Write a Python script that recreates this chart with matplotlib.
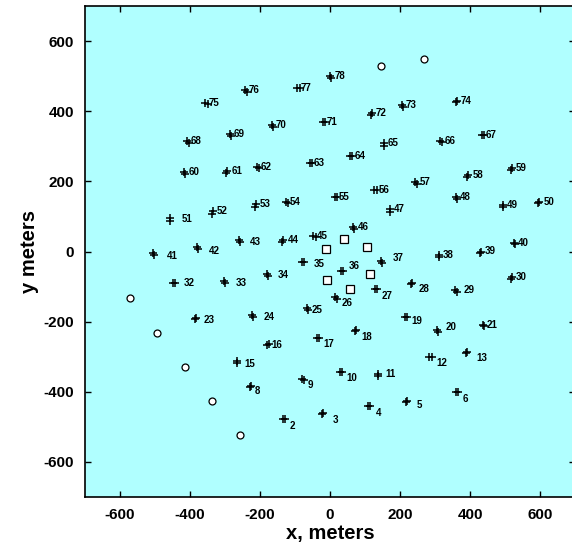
import matplotlib.pyplot as plt
import numpy as np

# station numbers and positions (meters)
station = [2, 3, 4, 5, 6, 8, 9, 10, 11, 12, 13, 15, 16, 17, 18, 19, 20, 21,
           23, 24, 25, 26, 27, 28, 29, 30, 32, 33, 34, 35, 36, 37, 38, 39, 40,
           41, 42, 43, 44, 45, 46, 47, 48, 49, 50, 51, 52, 53, 54, 55, 56, 57,
           58, 59, 60, 61, 62, 63, 64, 65, 66, 67, 68, 69, 70, 71, 72, 73, 74,
           75, 76, 77, 78]
x_sta = [-134, -24, 109, 217, 360, -229, -81, 29, 136, 284, 389, -267, -180,
         -37, 70, 215, 307, 436, -386, -223, -66, 15, 129, 231, 358, 520,
         -449, -303, -180, -81, 32, 147, 312, 431, 525, -505, -381, -260,
         -133, -48, 67, 170, 360, 495, 598, -457, -335, -211, -127, 13, 127,
         244, 395, 520, -416, -293, -209, -58, 58, 153, 315, 434, -409, -287,
         -166, -21, 119, 205, 363, -357, -243, -94, 1]
y_sta = [-479, -463, -440, -429, -400, -387, -363, -343, -349, -302, -289,
         -311, -266, -246, -227, -186, -224, -209, -193, -181, -161, -131,
         -107, -94, -111, -73, -89, -83, -64, -30, -55, -26, -9, 0, 24, -5,
         14, 34, 34, 44, 71, 120, 155, 133, 142, 95, 115, 135, 141, 155, 176,
         198, 217, 237, 227, 229, 240, 253, 273, 310, 315, 333, 316, 335, 360,
         369, 396, 419, 429, 424, 460, 467, 501]
# second survey position offset (meters)
dx_sta = [6, 3, 6, 2, 6, 3, 6, 6, 0, 6, 3, 0, 5, 6, 4, 6, 2, 5, 4, 2, 2, 4,
          6, 3, 4, -3, 7, 2, 2, 7, 4, 2, -2, -3, 3, 3, 3, 3, -3, 7, 2, 0, 4,
          0, -4, 0, -1, -2, 7, 7, 7, 4, -4, -4, 2, -3, 6, 6, 6, 0, 6, 6, 5, 5,
          4, 8, -3, 3, -4, 8, 6, 8, 3]
dy_sta = [0, 2, 0, 4, 0, 3, -2, 0, -6, 0, 3, -6, 3, 0, 2, 0, -6, -3, 3, -6,
          -6, -4, 0, 3, -4, -5, 0, -6, -6, 0, -2, -6, -6, -5, -4, -6, -6, -6,
          -6, -2, -7, -7, -5, -7, -3, -8, -7, -7, -2, 0, 0, -5, -5, -4, -6,
          -6, -3, 0, 0, -8, -2, 0, -6, -5, -6, 0, -6, -6, -4, -3, -6, 0, -6]

# open circles and squares
x_circ = [146, 269, -571, -493, -415, -336, -257]
y_circ = [530, 549, -134, -232, -329, -426, -524]
x_sq = [-11, -10, 41, 107, 113, 57]
y_sq = [6, -81, 35, 13, -63, -107]

# label offsets in pixels (default is right next to the marker)
lab_off = {2: (7, -7), 3: (11, -6), 4: (8, -7), 5: (11, -3), 6: (7, -7),
           8: (5, -4), 9: (6, -6), 10: (6, -6), 11: (8, 0), 12: (7, -6),
           13: (10, -5), 15: (8, -3), 17: (6, -6), 18: (7, -6), 19: (6, -4),
           20: (8, 3), 23: (9, -1), 24: (12, -2), 25: (5, -2), 26: (6, -6),
           27: (6, -7), 28: (8, -5), 29: (8, 0), 32: (11, 0), 33: (12, -2),
           34: (11, -1), 35: (12, -2), 36: (8, 5), 37: (11, 3), 41: (14, -3),
           42: (12, -4), 43: (11, -2), 51: (12, -1)}

plt.rcParams['font.family'] = ['Liberation Sans', 'DejaVu Sans']
plt.rcParams['font.weight'] = 'bold'
plt.rcParams['axes.unicode_minus'] = False

fig = plt.figure(figsize=(5.72, 5.5), dpi=100)
ax = fig.add_axes([85 / 572, 53 / 550, 490 / 572, 491 / 550])
ax.set_facecolor('#b0ffff')

xs = np.array(x_sta)
ys = np.array(y_sta)
ax.plot(xs, ys, '+', color='black', ms=6, mew=1.1)
ax.plot(xs + np.array(dx_sta), ys + np.array(dy_sta), '+', color='black',
        ms=6, mew=1.1)
ax.plot(x_circ, y_circ, 'o', mfc='white', mec='black', ms=5, mew=0.9)
ax.plot(x_sq, y_sq, 's', mfc='white', mec='black', ms=5.5, mew=0.9)

for n, xv, yv in zip(station, x_sta, y_sta):
    ox, oy = lab_off.get(n, (4, 0))
    ax.annotate(str(n), (xv, yv), xytext=(ox, oy), textcoords='offset pixels',
                ha='left', va='center', fontsize=7, fontweight='bold')

ax.set_xlim(-700, 700)
ax.set_ylim(-700, 700)
ax.set_xticks([-600, -400, -200, 0, 200, 400, 600])
ax.set_yticks([-600, -400, -200, 0, 200, 400, 600])
ax.tick_params(direction='in', length=4, width=1, top=True, right=True,
               labelsize=11, pad=8)
for t in ax.get_xticklabels() + ax.get_yticklabels():
    t.set_fontweight('bold')
for s in ax.spines.values():
    s.set_linewidth(1.2)
ax.set_xlabel('x, meters', fontsize=14.5, fontweight='bold', labelpad=1)
ax.set_ylabel('y meters', fontsize=14.5, fontweight='bold', labelpad=3)

fig.savefig('out.png', dpi=100)
plt.close('all')
